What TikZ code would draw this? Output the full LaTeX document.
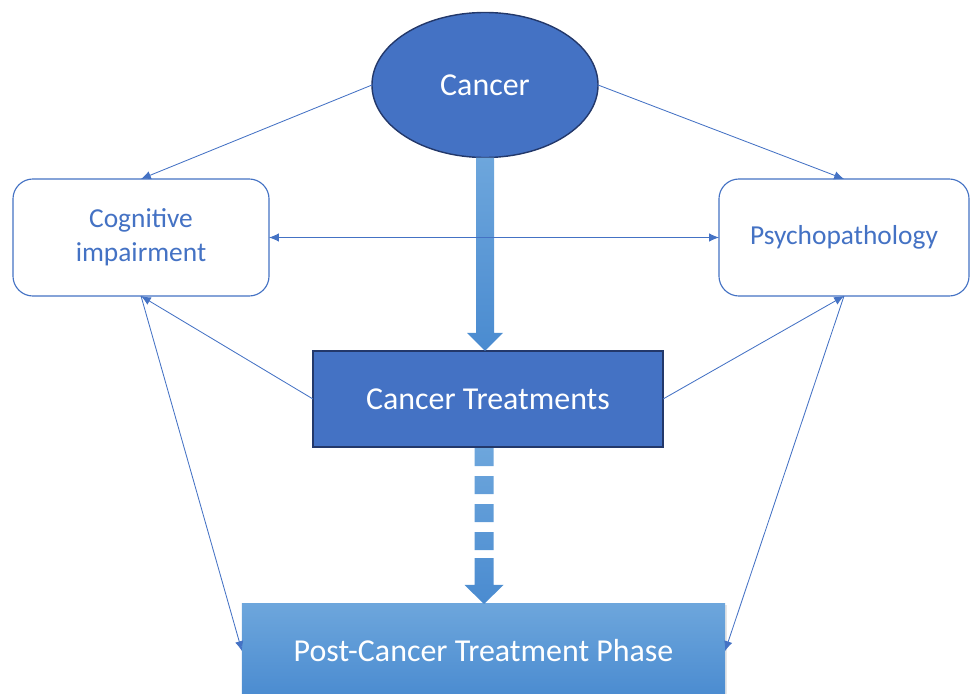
\documentclass[tikz,border=0pt]{standalone}
\usepackage{fontspec}
\setmainfont{Carlito}
\usetikzlibrary{calc}
\usetikzlibrary{positioning}
\usetikzlibrary{shapes.geometric,arrows.meta,shadows}

\definecolor{boxblue}{HTML}{4472C4}
\definecolor{edgenavy}{HTML}{23386A}
\definecolor{shaftlight}{HTML}{6DA6DC}
\definecolor{shaftdark}{HTML}{4A8BD0}

\begin{document}
\begin{tikzpicture}[x=0.025cm,y=0.025cm,outer sep=0pt,inner sep=2pt]

	\tikzstyle{every node}=[font=\fontsize{19.5}{24}\selectfont]

	\tikzset{sidebox/.style={align=center,shape=rectangle,rounded corners=0.5cm,
		draw=boxblue,line width=0.8pt,text=boxblue,fill=white,
		minimum height=2.925cm}}

	\tikzset{mainbox/.style={align=center,shape=rectangle,fill=boxblue,
		draw=edgenavy,line width=1pt,text=white,font=\fontsize{22.7}{27}\selectfont}}

	\tikzset{link/.style={draw=boxblue,line width=0.6pt,-{Latex[length=7pt,width=6pt]}}}

	\tikzset{blockarrow/.style={top color=shaftlight,bottom color=shaftdark,draw=none}}

	\clip (0,0) rectangle (971,693);

	\node (cancer) at (485,608) [mainbox,shape=ellipse,inner sep=0pt,
		minimum width=5.65cm,minimum height=3.625cm] {Cancer};

	\node (cognitive) at (141,455.5) [sidebox,minimum width=6.4cm] {Cognitive\\impairment};
	\node (psycho) at (844,455.5) [sidebox,minimum width=6.25cm] {Psychopathology};

	\node (treatments) at (488,294) [mainbox,minimum width=8.75cm,minimum height=2.4cm] {Cancer Treatments};

	\node (postphase) at (483.5,42) [align=center,shape=rectangle,top color=shaftlight,
		bottom color=shaftdark,text=white,minimum width=12.075cm,minimum height=2.35cm,
		font=\fontsize{22.7}{27}\selectfont,
		drop shadow={opacity=0.2,shadow xshift=1.5pt,shadow yshift=-1pt}] {Post-Cancer Treatment Phase};

	% Thick arrow from cancer down to the treatments.
	\coordinate (a1) at (cancer.south);
	\coordinate (a2) at (cancer.south |- treatments.north);
	\path [blockarrow] ($(a1)+(-9,0)$) -- ($(a2)+(-9,18)$) -- ($(a2)+(-18,18)$) -- (a2)
		-- ($(a2)+(18,18)$) -- ($(a2)+(9,18)$) -- ($(a1)+(9,0)$) -- cycle;

	% Broken arrow from the treatments to the post-treatment phase.
	\coordinate (b1) at ($(cancer.south |- treatments.south)+(-1,0)$);
	\coordinate (b2) at (b1 |- postphase.north);
	\path [blockarrow] foreach \s in {1,29,57,85} {
			($(b1)+(-9.5,-\s)$) rectangle ($(b1)+(9.5,-\s-18)$) }
		($(b1)+(-9.5,-111)$) -- ($(b2)+(-9.5,19)$) -- ($(b2)+(-19.5,19)$) -- (b2)
		-- ($(b2)+(19.5,19)$) -- ($(b2)+(9.5,19)$) -- ($(b1)+(9.5,-111)$) -- cycle;

	% Thin links between the boxes.
	\draw [link] (cancer.west) -- (cognitive.north);
	\draw [link] (cancer.east) -- (psycho.north);
	\draw [link,{Latex[length=7pt,width=6pt]}-{Latex[length=7pt,width=6pt]}] (cognitive.east) -- (psycho.west);
	\draw [link] (treatments.west) -- (cognitive.south);
	\draw [link] (treatments.east) -- (psycho.south);
	\draw [link] (cognitive.south) -- (postphase.west);
	\draw [link] (psycho.south) -- (postphase.east);
\end{tikzpicture}
\end{document}
